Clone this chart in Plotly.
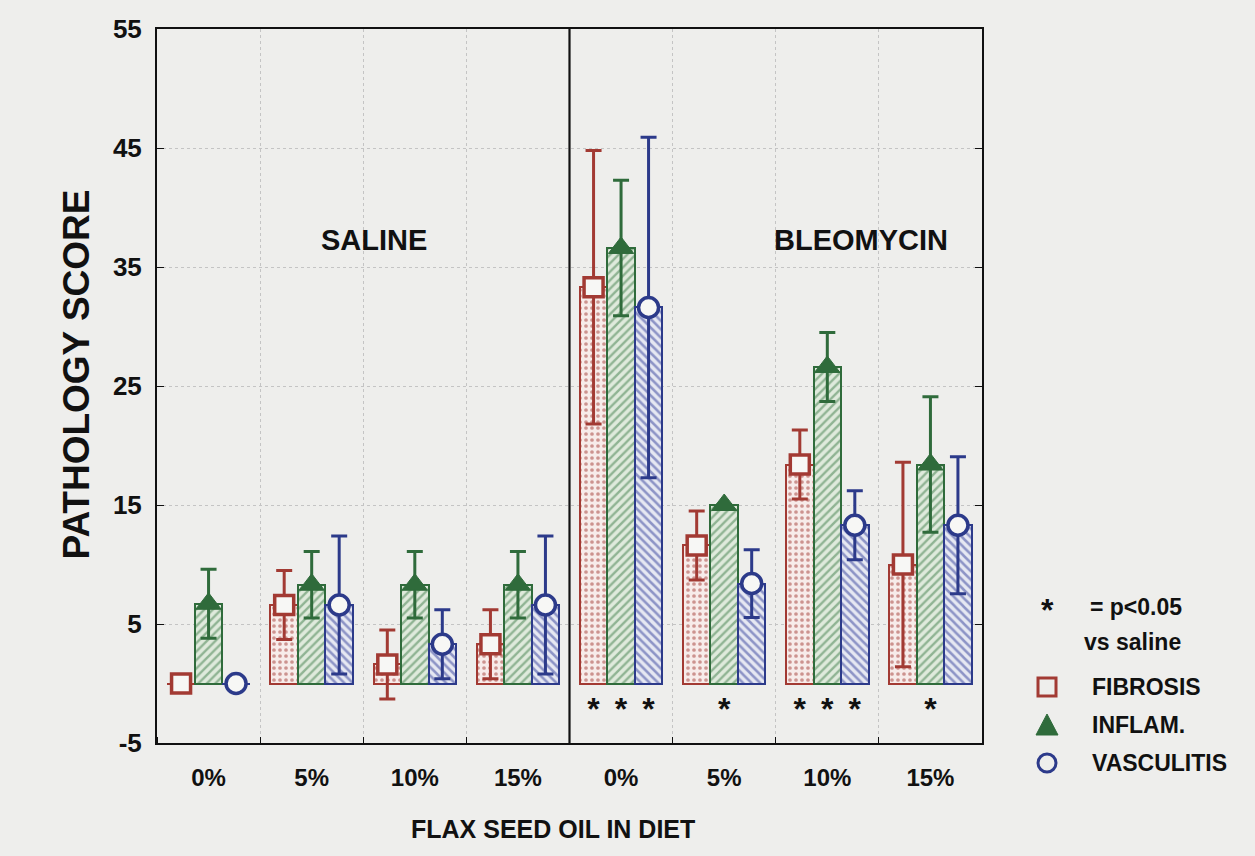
import plotly.graph_objects as go

# Flax seed oil content of diet, for saline and bleomycin treated groups
groups = ["0%", "5%", "10%", "15%", "0%", "5%", "10%", "15%"]
treatments = ["SALINE", "BLEOMYCIN"]

fibrosis = [0.0, 6.6, 1.6, 3.3, 33.3, 11.6, 18.4, 10.0]
fibrosis_err = [0.0, 2.9, 2.9, 2.9, 11.5, 2.9, 2.9, 8.6]

inflam = [6.7, 8.3, 8.3, 8.3, 36.6, 15.0, 26.6, 18.4]
inflam_err = [2.9, 2.8, 2.8, 2.8, 5.7, 0.0, 2.9, 5.7]

vasculitis = [0.0, 6.6, 3.3, 6.6, 31.6, 8.4, 13.3, 13.3]
vasculitis_err = [0.0, 5.8, 2.9, 5.8, 14.3, 2.85, 2.9, 5.75]

# significance vs saline (1 = p<0.05), per group
sig_fibrosis = [0, 0, 0, 0, 1, 0, 1, 0]
sig_inflam = [0, 0, 0, 0, 1, 1, 1, 1]
sig_vasculitis = [0, 0, 0, 0, 1, 0, 1, 0]

y_ticks = [-5, 5, 15, 25, 35, 45, 55]
y_tick_text = ["-5", "5", "15", "25", "35", "45", "55"]

RED, GREEN, BLUE = "#a23a33", "#2f6b3b", "#2c3a8a"
BG = "#eeeeec"
FONT = "Liberation Sans, Arial, sans-serif"
INK = "#111111"

n_groups = len(groups)
group_width = 0.8
bar_w = group_width / 3

series = [
    dict(name="FIBROSIS", y=fibrosis, err=fibrosis_err, sig=sig_fibrosis, color=RED,
         pattern=dict(shape=".", fgcolor=RED, bgcolor="#f7ecea", size=6, solidity=0.3),
         marker=dict(symbol="square", size=19, color="#f7f7f5", line=dict(color=RED, width=3.5))),
    dict(name="INFLAM.", y=inflam, err=inflam_err, sig=sig_inflam, color=GREEN,
         pattern=dict(shape="/", fgcolor="#3f7d4a", bgcolor="#dfeadc", size=6, solidity=0.4),
         marker=dict(symbol="triangle-up", size=22, color=GREEN, line=dict(color=GREEN, width=1))),
    dict(name="VASCULITIS", y=vasculitis, err=vasculitis_err, sig=sig_vasculitis, color=BLUE,
         pattern=dict(shape="\\", fgcolor="#34409a", bgcolor="#e6e8f2", size=6, solidity=0.42),
         marker=dict(symbol="circle", size=20, color="#f7f7f5", line=dict(color=BLUE, width=3.5))),
]

fig = go.Figure()

star_y = -2.4
for k, s in enumerate(series):
    xs = [i + (k - 1) * bar_w for i in range(n_groups)]
    fig.add_trace(go.Bar(
        x=xs, y=s["y"], width=bar_w,
        marker=dict(color=s["pattern"]["bgcolor"], pattern=s["pattern"],
                    line=dict(color=s["color"], width=2)),
        error_y=dict(type="data", array=s["err"], visible=True,
                     color=s["color"], thickness=3, width=8),
        showlegend=False, hoverinfo="skip",
    ))
    fig.add_trace(go.Scatter(
        x=xs, y=s["y"], mode="markers", marker=s["marker"],
        showlegend=False, hoverinfo="skip", cliponaxis=False,
    ))
    sx = [x for x, f in zip(xs, s["sig"]) if f]
    fig.add_trace(go.Scatter(
        x=sx, y=[star_y] * len(sx), mode="text", text=["*"] * len(sx),
        textfont=dict(family=FONT, size=32, color=INK, weight="bold"),
        showlegend=False, hoverinfo="skip",
    ))

# boundary between saline and bleomycin groups
split = n_groups // 2 - 0.5
fig.add_shape(type="line", xref="x", yref="paper", x0=split, x1=split, y0=0, y1=1,
              line=dict(color=INK, width=2.2))

# treatment headings
fig.add_annotation(x=1.6, y=37.3, text="SALINE", showarrow=False,
                   font=dict(family=FONT, size=29, color=INK, weight="bold"))
fig.add_annotation(x=6.33, y=37.3, text="BLEOMYCIN", showarrow=False,
                   font=dict(family=FONT, size=29, color=INK, weight="bold"))

# axis titles
fig.add_annotation(xref="paper", yref="paper", x=0.48, y=-0.12, text="FLAX SEED OIL IN DIET",
                   showarrow=False, xanchor="center", yanchor="middle",
                   font=dict(family=FONT, size=25, color=INK, weight="bold"))
fig.add_annotation(xref="paper", yref="paper", x=-0.097, y=0.516, text="PATHOLOGY SCORE",
                   showarrow=False, textangle=-90, xanchor="center", yanchor="middle",
                   font=dict(family=FONT, size=37, color=INK, weight="bold"))

# key
key_font = dict(family=FONT, size=23, color=INK, weight="bold")
fig.add_annotation(xref="paper", yref="paper", x=1.0788, y=0.186, text="*", showarrow=False,
                   xanchor="center", yanchor="middle",
                   font=dict(family=FONT, size=32, color=INK, weight="bold"))
fig.add_annotation(xref="paper", yref="paper", x=1.1285, y=0.1905, text="= p<0.05",
                   xanchor="left", yanchor="middle", showarrow=False, font=key_font)
fig.add_annotation(xref="paper", yref="paper", x=1.121, y=0.1415, text="vs saline",
                   xanchor="left", yanchor="middle", showarrow=False, font=key_font)
key_rows = [0.0784, 0.0252, -0.028]
key_x = 1.0788
for s, ky in zip(series, key_rows):
    fig.add_annotation(xref="paper", yref="paper", x=1.131, y=ky, text=s["name"],
                       xanchor="left", yanchor="middle", showarrow=False, font=key_font)
fig.add_shape(type="rect", xref="paper", yref="paper", xsizemode="pixel", ysizemode="pixel",
              xanchor=key_x, yanchor=key_rows[0], x0=-9, x1=9, y0=-9, y1=9,
              line=dict(color=RED, width=3), fillcolor="rgba(0,0,0,0)")
fig.add_shape(type="path", xref="paper", yref="paper", xsizemode="pixel", ysizemode="pixel",
              xanchor=key_x, yanchor=key_rows[1], path="M -11,-10 L 11,-10 L 0,11 Z",
              line=dict(color=GREEN, width=1), fillcolor=GREEN)
fig.add_shape(type="circle", xref="paper", yref="paper", xsizemode="pixel", ysizemode="pixel",
              xanchor=key_x, yanchor=key_rows[2], x0=-9, x1=9, y0=-9, y1=9,
              line=dict(color=BLUE, width=3), fillcolor="rgba(0,0,0,0)")

grid = dict(gridcolor="#c4c4c4", griddash="dot", gridwidth=1)
fig.update_layout(
    width=1255, height=856,
    margin=dict(l=157, r=273, t=29, b=113),
    paper_bgcolor=BG, plot_bgcolor=BG,
    barmode="overlay", bargap=0,
    xaxis=dict(range=[-0.5, n_groups - 0.5], tickvals=list(range(n_groups)), ticktext=groups,
               ticks="", showgrid=False, zeroline=False,
               showline=True, linecolor=INK, linewidth=2, mirror=True,
               tickfont=dict(family=FONT, size=24, color=INK, weight="bold"),
               ticklabelstandoff=12,
               minor=dict(tick0=0.5, dtick=1, ticks="inside", ticklen=6, tickcolor=INK,
                          showgrid=True, **grid)),
    yaxis=dict(range=[-5, 55], tickvals=y_ticks, ticktext=y_tick_text, ticks="inside", ticklen=7,
               tickcolor=INK, showgrid=True, zeroline=False,
               showline=True, linecolor=INK, linewidth=2, mirror="ticks",
               tickfont=dict(family=FONT, size=26, color=INK, weight="bold"),
               ticklabelstandoff=8, **grid),
)

fig.write_html("out.html")
